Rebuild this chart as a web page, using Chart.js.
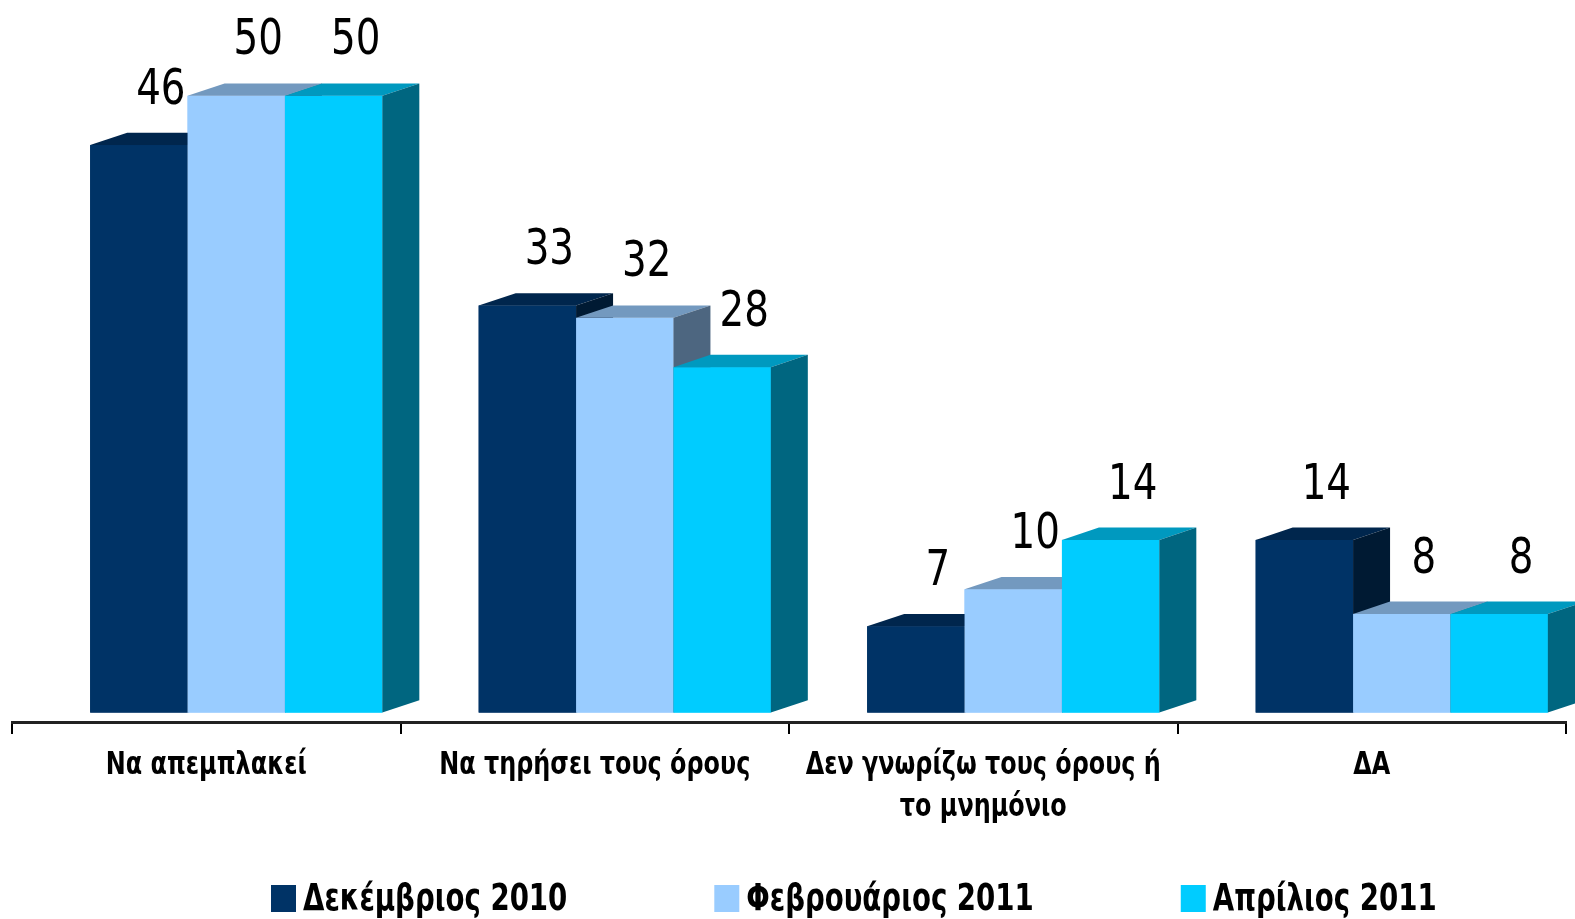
<!DOCTYPE html>
<html>
<head>
<meta charset="utf-8">
<script src="https://cdn.jsdelivr.net/npm/chart.js@4.4.1/dist/chart.umd.min.js"></script>
<style>
  body { margin: 0; background: #fff; }
</style>
</head>
<body>
<canvas id="chart" width="1575" height="919"></canvas>
<script>
// Κατηγορίες και τιμές (%)
const categories = [
    'Να απεμπλακεί',
    'Να τηρήσει τους όρους',
    ['Δεν γνωρίζω τους όρους ή', 'το μνημόνιο'],
    'ΔΑ'
];
const seriesNames = ['Δεκέμβριος 2010', 'Φεβρουάριος 2011', 'Απρίλιος 2011'];
const dec2010 = [46, 33, 7, 14];
const feb2011 = [50, 32, 10, 8];
const apr2011 = [50, 28, 14, 8];

// Χρώματα: μπροστινή, πάνω και πλαϊνή όψη
const frontColors = ['#003366', '#99ccff', '#00ccff'];
const topColors = ['#00264d', '#7399bf', '#0099bf'];
const sideColors = ['#001a33', '#4d6680', '#006680'];

const FONT = "'DejaVu Sans Condensed', 'DejaVu Sans', sans-serif";
const SHIFT = 30;      // οι μπάρες είναι λίγο δεξιά από το κέντρο της κατηγορίας
const DX = 37;         // βάθος 3D
const DY = 12.3;

// στενή γραμματοσειρά όπως στο πρωτότυπο
function textCondensed(ctx, text, x, y, squeeze) {
    ctx.save();
    ctx.translate(x, y);
    ctx.scale(squeeze, 1);
    ctx.fillText(text, 0, 0);
    ctx.restore();
}

const bar3d = {
    id: 'bar3d',
    beforeDatasetsDraw(chart) {
        chart.ctx.save();
        chart.ctx.translate(SHIFT, 0);
    },
    afterDatasetsDraw(chart) {
        const ctx = chart.ctx;
        // ξαναζωγραφίζουμε με τη σωστή σειρά: μπροστά, πάνω, πλάι για κάθε σειρά
        chart.data.datasets.forEach((ds, i) => {
            chart.getDatasetMeta(i).data.forEach(bar => {
                const { x, y, base, width } = bar.getProps(['x', 'y', 'base', 'width'], true);
                const l = x - width / 2, r = x + width / 2;
                ctx.fillStyle = frontColors[i];
                ctx.fillRect(l, y, width, base - y);

                ctx.fillStyle = topColors[i];
                ctx.beginPath();
                ctx.moveTo(l, y);
                ctx.lineTo(r, y);
                ctx.lineTo(r + DX, y - DY);
                ctx.lineTo(l + DX, y - DY);
                ctx.closePath();
                ctx.fill();

                ctx.fillStyle = sideColors[i];
                ctx.beginPath();
                ctx.moveTo(r, y);
                ctx.lineTo(r + DX, y - DY);
                ctx.lineTo(r + DX, base - DY);
                ctx.lineTo(r, base);
                ctx.closePath();
                ctx.fill();
            });
        });

        ctx.font = '49px ' + FONT;
        ctx.fillStyle = '#000';
        ctx.textAlign = 'center';
        ctx.textBaseline = 'alphabetic';
        chart.data.datasets.forEach((ds, i) => {
            chart.getDatasetMeta(i).data.forEach((bar, j) => {
                textCondensed(ctx, String(ds.data[j]), bar.x + 22, bar.y - DY - 29, 0.88);
            });
        });
        ctx.restore();
    },
    afterDraw(chart) {
        const ctx = chart.ctx;
        const xScale = chart.scales.x;
        ctx.save();
        ctx.fillStyle = '#000';
        ctx.textBaseline = 'alphabetic';

        // ετικέτες κατηγοριών
        ctx.font = 'bold 32px ' + FONT;
        ctx.textAlign = 'center';
        categories.forEach((label, i) => {
            const lines = Array.isArray(label) ? label : [label];
            const x = xScale.getPixelForTick(i);
            lines.forEach((line, k) => textCondensed(ctx, line, x, 774 + k * 42, 0.83));
        });

        // υπόμνημα
        ctx.font = 'bold 37px ' + FONT;
        ctx.textAlign = 'left';
        const gap = 147, boxW = 25, boxGap = 32;
        let x = 271;
        seriesNames.forEach((name, i) => {
            ctx.fillStyle = frontColors[i];
            ctx.fillRect(x, 885, boxW, 27);
            ctx.fillStyle = '#000';
            textCondensed(ctx, name, x + boxGap, 910, 0.83);
            x += boxGap + ctx.measureText(name).width * 0.83 + gap;
        });
        ctx.restore();
    }
};

new Chart(document.getElementById('chart'), {
    type: 'bar',
    data: {
        labels: categories,
        datasets: [
            { label: seriesNames[0], data: dec2010, backgroundColor: frontColors[0] },
            { label: seriesNames[1], data: feb2011, backgroundColor: frontColors[1] },
            { label: seriesNames[2], data: apr2011, backgroundColor: frontColors[2] }
        ]
    },
    options: {
        responsive: false,
        animation: false,
        devicePixelRatio: 1,
        layout: { padding: { top: 34, left: 12, right: 9, bottom: 0 } },
        datasets: {
            bar: { barPercentage: 1, categoryPercentage: 0.752, borderWidth: 0, clip: false }
        },
        plugins: {
            legend: { display: false },
            tooltip: { enabled: false }
        },
        scales: {
            x: {
                grid: {
                    offset: true,
                    drawOnChartArea: false,
                    color: '#000',
                    lineWidth: 2,
                    tickLength: 12
                },
                border: { display: true, color: '#222', width: 3 },
                ticks: { display: false },
                afterFit(scale) { scale.height = 197; }
            },
            y: {
                display: false,
                min: -0.76,
                max: 55
            }
        }
    },
    plugins: [bar3d]
});
</script>
</body>
</html>
